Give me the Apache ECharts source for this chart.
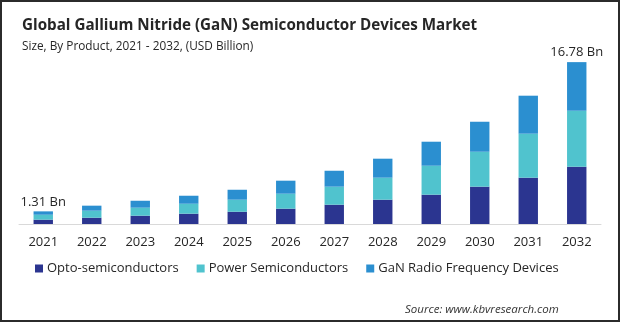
<!DOCTYPE html>
<html>
<head>
<meta charset="utf-8">
<style>
html,body{margin:0;padding:0;background:#fff;}
#chart{width:620px;height:322px;}
</style>
<script src="https://cdn.jsdelivr.net/npm/echarts@6/dist/echarts.min.js"></script>
</head>
<body>
<div id="chart"></div>
<script>
const years = ["2021","2022","2023","2024","2025","2026","2027","2028","2029","2030","2031","2032"];
const opto  = [0.45, 0.65, 0.86, 1.07, 1.27, 1.59, 2.00, 2.52, 3.04, 3.87, 4.80, 5.94];
const power = [0.51, 0.73, 0.83, 1.03, 1.25, 1.55, 1.87, 2.28, 3.00, 3.62, 4.56, 5.80];
const gan   = [0.35, 0.52, 0.72, 0.83, 1.03, 1.35, 1.65, 1.97, 2.49, 3.11, 3.94, 5.04];
const seriesNames = ["Opto-semiconductors", "Power Semiconductors", "GaN Radio Frequency Devices"];
const labelIdx = [0, 11];

const totals = years.map((_, i) => opto[i] + power[i] + gan[i]);
const font = "'Open Sans', 'Noto Sans', sans-serif";

const chart = echarts.init(document.getElementById('chart'), null, {renderer: 'canvas'});
chart.setOption({
  animation: false,
  backgroundColor: '#fff',
  title: [
    {text: 'Global Gallium Nitride (GaN) Semiconductor Devices Market', left: 17, top: 13,
     textStyle: {fontFamily: font, fontSize: 15.2, fontWeight: 'bold', color: '#262626'}},
    {text: 'Size, By Product, 2021 - 2032, (USD Billion)', left: 17, top: 36,
     textStyle: {fontFamily: font, fontSize: 11.8, fontWeight: 'normal', color: '#262626'}},
    {text: 'Source: www.kbvresearch.com', left: 400, top: 299,
     textStyle: {fontFamily: font, fontSize: 11.5, fontStyle: 'italic', fontWeight: 'normal', color: '#333'}}
  ],
  legend: {
    left: 30, top: 257, icon: 'rect', itemWidth: 8, itemHeight: 8, itemGap: 18,
    textStyle: {fontFamily: font, fontSize: 13, color: '#262626', padding: [0,0,0,-1]},
    data: seriesNames
  },
  grid: {left: 19, right: 19, top: 60, bottom: 98},
  xAxis: {
    type: 'category', data: years,
    axisLine: {lineStyle: {color: '#d9d9d9', width: 1}},
    axisTick: {show: false},
    axisLabel: {fontFamily: font, fontSize: 13, color: '#262626', margin: 12}
  },
  yAxis: {type: 'value', min: 0, max: 17, show: false, splitLine: {show: false}},
  series: [
    {name: seriesNames[0], type: 'bar', stack: 't', data: opto, barWidth: '40%', itemStyle: {color: '#2b3590'}},
    {name: seriesNames[1], type: 'bar', stack: 't', data: power, itemStyle: {color: '#50c3ce'}},
    {name: seriesNames[2], type: 'bar', stack: 't', data: gan, itemStyle: {color: '#2b8fd0'},
     label: {show: true, position: 'top', distance: 3, fontFamily: font, fontSize: 13, color: '#262626',
       formatter: p => labelIdx.includes(p.dataIndex) ? totals[p.dataIndex].toFixed(2) + ' Bn' : ''}}
  ],
  graphic: [
    {type: 'rect', shape: {x: 1, y: 1, width: 618, height: 320}, style: {fill: 'none', stroke: '#2b2b2b', lineWidth: 2}, silent: true}
  ]
});
</script>
</body>
</html>
